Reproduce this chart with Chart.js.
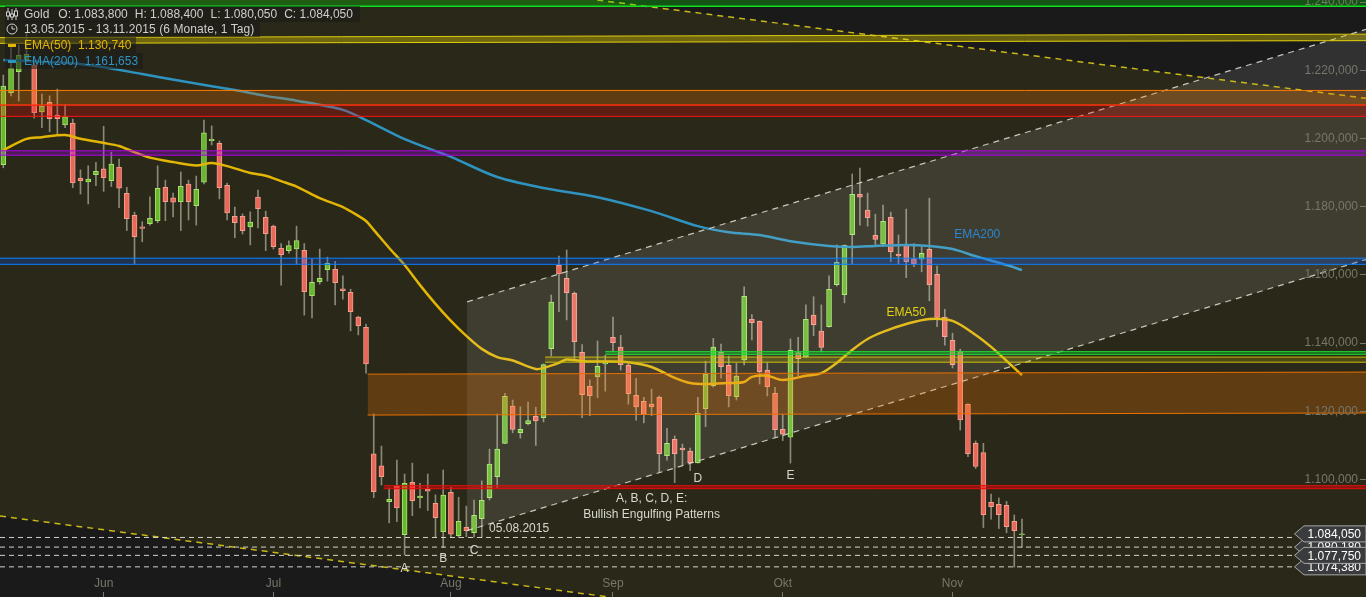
<!DOCTYPE html>
<html>
<head>
<meta charset="utf-8">
<title>Gold</title>
<script src="https://cdn.jsdelivr.net/npm/chart.js@4"></script>
<style>
    html, body { margin: 0; padding: 0; background: #1a1a1a; overflow: hidden; }
    #wrap { position: relative; width: 1366px; height: 597px; }
    #header { position: absolute; left: 0; top: 0; font: 12px "Liberation Sans", Arial, sans-serif; }
    #header div { position: absolute; height: 16px; line-height: 16px; white-space: pre; background: rgba(26,26,26,.55); padding-left: 19px; box-sizing: border-box; left: 5px; color: #cfcfcf; }
    #header span { margin-left: 7px; }
    #header svg { position: absolute; left: 0; top: 0; }
</style>
</head>
<body>
<div id="wrap">
    <canvas id="goldChart" width="1366" height="597"></canvas>
    <div id="header">
        <div style="top:6px;width:355px">Gold<span style="margin-left:9px">O: 1.083,800</span><span>H: 1.088,400</span><span>L: 1.080,050</span><span>C: 1.084,050</span><svg width="16" height="16"><path d="M3 2v12M7 3v11M11 2v12" stroke="#cfcfcf" fill="none"/><rect x="1.5" y="6" width="3" height="4" fill="#1a1a1a" stroke="#cfcfcf"/><rect x="5.5" y="8" width="3" height="3" fill="#1a1a1a" stroke="#cfcfcf"/><rect x="9.5" y="5" width="3" height="5" fill="#1a1a1a" stroke="#cfcfcf"/></svg></div>
        <div style="top:21px;width:255px;letter-spacing:.08px">13.05.2015 - 13.11.2015 (6 Monate, 1 Tag)<svg width="16" height="16"><circle cx="7" cy="8" r="5" stroke="#cfcfcf" fill="none"/><path d="M7 5v3h3" stroke="#cfcfcf" fill="none"/></svg></div>
        <div style="top:37px;width:131px;color:#e3b505">EMA(50)  1.130,740<svg width="16" height="16"><rect x="3" y="7" width="8" height="3" fill="#e3b505"/></svg></div>
        <div style="top:53px;width:138px;color:#2f93c0">EMA(200)  1.161,653<svg width="16" height="16"><rect x="3" y="7" width="8" height="3" fill="#2f93c0"/></svg></div>
    </div>
</div>
<script>
// daily candles, 13.05.2015 - 13.11.2015
const opens = [1.1923,1.2134,1.2196,1.2230,1.2215,1.2078,1.2106,1.2069,1.2040,1.2045,1.1883,1.1873,1.1894,1.1911,1.1876,1.1916,1.1839,1.1775,1.1741,1.1750,
    1.1759,1.1857,1.1826,1.1815,1.1866,1.1803,1.1872,1.1994,1.1986,1.1863,1.1772,1.1772,1.1741,1.1828,1.1769,1.1743,1.1678,1.1671,1.1676,1.1672,
    1.1539,1.1580,1.1615,1.1616,1.1559,1.1549,1.1476,1.1446,1.1075,1.1040,1.0935,1.0981,1.0838,1.0992,1.0946,1.0971,1.0930,1.0847,1.0962,1.0835,
    1.0860,1.0844,1.0885,1.0947,1.1008,1.1106,1.1215,1.1137,1.1164,1.1185,1.1181,1.1384,1.1628,1.1590,1.1546,1.1373,1.1273,1.1301,1.1339,1.1417,
    1.1388,1.1335,1.1247,1.1229,1.1221,1.1241,1.1070,1.1118,1.1092,1.1083,1.1049,1.1208,1.1275,1.1373,1.1335,1.1243,1.1351,1.1470,1.1464,1.1321,
    1.1253,1.1147,1.1124,1.1372,1.1359,1.1482,1.1435,1.1448,1.1571,1.1542,1.1718,1.1836,1.1790,1.1716,1.1691,1.1769,1.1661,1.1690,1.1647,1.1646,
    1.1675,1.1602,1.1476,1.1408,1.1376,1.1221,1.1106,1.1079,1.0933,1.0927,1.0924,1.0877,1.0838];
const highs = [1.2186,1.2271,1.2274,1.2309,1.2224,1.2130,1.2125,1.2145,1.2099,1.2057,1.1908,1.1920,1.1930,1.2036,1.1960,1.1940,1.1857,1.1784,1.1756,1.1829,
    1.1920,1.1878,1.1840,1.1902,1.1878,1.1890,1.2054,1.2037,1.1993,1.1869,1.1799,1.1779,1.1785,1.1849,1.1787,1.1746,1.1692,1.1700,1.1743,1.1692,
    1.1646,1.1676,1.1652,1.1640,1.1597,1.1558,1.1479,1.1456,1.1192,1.1098,1.0975,1.1057,1.1016,1.1048,1.0989,1.1016,1.0955,1.1028,1.0977,1.0948,
    1.0922,1.0940,1.0996,1.1089,1.1192,1.1253,1.1233,1.1213,1.1227,1.1212,1.1339,1.1541,1.1655,1.1673,1.1550,1.1396,1.1292,1.1406,1.1364,1.1476,
    1.1423,1.1341,1.1297,1.1241,1.1265,1.1245,1.1150,1.1128,1.1104,1.1092,1.1241,1.1347,1.1414,1.1397,1.1362,1.1341,1.1565,1.1484,1.1465,1.1343,
    1.1270,1.1191,1.1412,1.1417,1.1512,1.1536,1.1512,1.1597,1.1688,1.1688,1.1896,1.1913,1.1840,1.1778,1.1805,1.1784,1.1717,1.1793,1.1692,1.1683,
    1.1825,1.1626,1.1499,1.1429,1.1382,1.1222,1.1113,1.1106,1.0957,1.0946,1.0936,1.0896,1.0884];
const lows = [1.1914,1.2125,1.2110,1.2224,1.2060,1.2032,1.2020,1.2013,1.2032,1.1856,1.1837,1.1808,1.1862,1.1845,1.1859,1.1797,1.1730,1.1632,1.1697,1.1746,
    1.1753,1.1759,1.1770,1.1730,1.1761,1.1746,1.1867,1.1981,1.1823,1.1761,1.1709,1.1720,1.1688,1.1738,1.1671,1.1676,1.1570,1.1664,1.1632,1.1482,
    1.1474,1.1573,1.1582,1.1512,1.1529,1.1436,1.1424,1.1312,1.0947,1.0984,1.0873,1.0876,1.0779,1.0894,1.0917,1.0909,1.0830,1.0801,1.0830,1.0830,
    1.0832,1.0831,1.0830,1.0940,1.0977,1.1105,1.1137,1.1121,1.1160,1.1100,1.1169,1.1362,1.1492,1.1468,1.1348,1.1181,1.1187,1.1240,1.1259,1.1374,
    1.1321,1.1221,1.1174,1.1166,1.1187,1.1021,1.1057,1.0991,1.1043,1.1026,1.1048,1.1155,1.1271,1.1297,1.1213,1.1233,1.1336,1.1409,1.1280,1.1245,
    1.1124,1.1114,1.1048,1.1304,1.1358,1.1422,1.1374,1.1447,1.1567,1.1518,1.1632,1.1746,1.1743,1.1685,1.1683,1.1639,1.1632,1.1592,1.1624,1.1609,
    1.1524,1.1448,1.1394,1.1327,1.1145,1.1067,1.1032,1.0859,1.0884,1.0856,1.0844,1.0743,1.08005];
const closes = [1.2154,1.2206,1.2244,1.2247,1.2076,1.2095,1.2058,1.2058,1.2064,1.1870,1.1876,1.1881,1.1904,1.1885,1.1925,1.1854,1.1765,1.1712,1.1736,1.1766,
    1.1854,1.1815,1.1813,1.1860,1.1815,1.1851,1.2017,1.1998,1.1856,1.1782,1.1753,1.1730,1.1755,1.1794,1.1721,1.1683,1.1659,1.1686,1.1701,1.1551,
    1.1578,1.1590,1.1634,1.1577,1.1554,1.1492,1.1451,1.1339,1.0964,1.1008,1.0942,1.0917,1.0989,1.0938,1.0951,1.0966,1.0888,1.0954,1.0840,1.0877,
    1.0850,1.0895,1.0939,1.1045,1.1089,1.1244,1.1147,1.1147,1.1173,1.1172,1.1337,1.1520,1.1603,1.1548,1.1404,1.1249,1.1246,1.1332,1.1343,1.1401,
    1.1337,1.1252,1.1213,1.1191,1.1213,1.1076,1.1106,1.1076,1.1087,1.1049,1.1194,1.1310,1.1388,1.1331,1.1246,1.1303,1.1537,1.1460,1.1316,1.1272,
    1.1146,1.1133,1.1379,1.1354,1.1470,1.1454,1.1387,1.1558,1.1637,1.1687,1.1836,1.1828,1.1768,1.1704,1.1757,1.1668,1.1656,1.1639,1.1632,1.1663,
    1.1571,1.1475,1.1419,1.1337,1.1175,1.1076,1.1038,1.0897,1.0920,1.0897,1.0862,1.0850,1.08405];

// moving averages, read at selected candles
const ema200Days = [0,3,9,13,18,24,30,34,38,44,47,52,58,64,70,77,84,90,94,98,102,107,110,113,117,120,123,126,130,132];
const ema200Values = [1.2230,1.2227,1.2221,1.2209,1.2189,1.2165,1.2142,1.2125,1.2111,1.2084,1.2054,1.1998,1.1946,1.1887,1.1855,1.1828,1.1787,1.1743,1.1725,1.1717,
    1.1699,1.1685,1.1682,1.1685,1.1688,1.1685,1.1676,1.1655,1.1629,1.1614];
const ema50Days = [0,3,5,8,10,13,15,17,19,22,25,27,29,32,34,36,38,41,44,46,47,48,50,52,54,56,58,60,62,64,66,69,70,72,73,75,78,81,84,87,89,91,94,96,97,99,101,104,106,108,110,112,114,117,120,123,126,128,130,132];
const ema50Values = [1.1966,1.1999,1.2004,1.2010,1.1999,1.1987,1.1978,1.1960,1.1944,1.1931,1.1921,1.1928,1.1919,1.1899,1.1891,1.1875,1.1859,1.1825,1.1799,1.1773,
    1.1758,1.1732,1.1679,1.1629,1.1570,1.1515,1.1465,1.1421,1.1383,1.1359,1.1349,1.1324,1.1327,1.1342,1.1352,1.1347,1.1346,1.1344,1.1330,1.1298,
    1.1283,1.1280,1.1283,1.1286,1.1301,1.1304,1.1292,1.1304,1.1312,1.1342,1.1380,1.1412,1.1433,1.1456,1.1471,1.1465,1.1424,1.1389,1.1348,1.1306];

// axes
const priceTicks = [1.10,1.12,1.14,1.16,1.18,1.20,1.22,1.24];
const monthDays = [13,35,58,79,101,123];
const monthNames = ['Jun','Jul','Aug','Sep','Okt','Nov'];
const firstDay = -0.43, lastDay = 176.58, priceMin = 1.06554, priceMax = 1.24062;

// drawn levels: [price at start, price at end]
const greenTop = [1.2388, 1.2388];
const yellowUpper = [1.2296, 1.2306];
const yellowLower = [1.2279, 1.2287];
const orangeHigh = 1.2141, redHigh1 = 1.2098, redHigh2 = 1.2065;
const purple1 = 1.1964, purple2 = 1.1951;
const blue1 = 1.1649, blue2 = 1.1631;
const shortGreen1 = 1.1375, shortGreen2 = 1.1367, shortGreenDay = 78;
const shortYellow1 = 1.1359, shortYellow2 = 1.1344, shortYellowDay = 70.2;
const zoneUpper = [1.1309, 1.1315], zoneLower = [1.1189, 1.1195], zoneDay = 47.2;
const redLow1 = 1.0982, redLow2 = 1.0973, redLowDay = 49.3;
const dashedLevels = [1.0830, 1.08018, 1.07775, 1.07438];
const dashedEndDay = 167.4;
const channelDay = 60.09;
const channelUpper = [1.1521, 1.2320], channelLower = [1.0850, 1.1645];
const fallingUpper = [76.96, 1.2406, 1.2118], fallingLower = [78.6, 1.0893, 1.0655];

// price tags in the order they overlap
const tagValues = [1.08018, 1.07438, 1.07775, 1.08405];
const tagTexts = ['1.080,180', '1.074,380', '1.077,750', '1.084,050'];

// notes on the chart
const noteTexts = ['A','B','C','D','E','A, B, C, D, E:','Bullish Engulfing Patterns','05.08.2015','EMA200','EMA50'];
const noteDays = [52,57,61,90,102,84,84,62.94,126.2,117];
const notePrices = [1.0737,1.0767,1.0790,1.1003,1.1012,1.0943,1.0896,1.0855,1.1717,1.1489];
const noteColors = ['#d8d8d0','#d8d8d0','#d8d8d0','#d8d8d0','#d8d8d0','#d8d8d0','#d8d8d0','#d8d8d0','#2a86d2','#e2d214'];

const dayIndex = opens.map((v, i) => i);
const upColors = opens.map((v, i) => closes[i] >= v);

function segment(x1, y1, x2, y2, color, order, extra) {
    return Object.assign({
        type: 'line',
        data: [{x: x1, y: y1}, {x: x2, y: y2}],
        borderColor: color,
        borderWidth: 1,
        pointRadius: 0,
        fill: false,
        order: order
    }, extra || {});
}

// two lines with a fill between them
function band(x1, top, bottom, color, fillColor, order) {
    return [
        segment(x1, top[0], lastDay, top[1], color, order, {fill: '+1', backgroundColor: fillColor}),
        segment(x1, bottom[0], lastDay, bottom[1], color, order)
    ];
}

function lineOf(days, values, color, order) {
    return {
        type: 'line',
        data: days.map((d, i) => ({x: d, y: values[i]})),
        borderColor: color,
        borderWidth: 2.5,
        pointRadius: 0,
        fill: false,
        tension: 0.3,
        order: order
    };
}

const datasets = [
    // olive area between the two falling lines
    {
        type: 'line',
        data: [{x: firstDay, y: priceMax}, {x: fallingUpper[0], y: fallingUpper[1]}, {x: lastDay, y: fallingUpper[2]}],
        borderWidth: 0, pointRadius: 0, fill: '+1', backgroundColor: '#2a2818', order: 100
    },
    {
        type: 'line',
        data: [{x: firstDay, y: fallingLower[1]}, {x: fallingLower[0], y: fallingLower[2]}, {x: lastDay, y: priceMin}],
        borderWidth: 0, pointRadius: 0, fill: false, order: 100
    },
    // candles
    {
        type: 'bar',
        data: dayIndex.map(i => ({x: i, y: [lows[i], highs[i]]})),
        backgroundColor: 'rgba(178,178,158,.7)',
        barThickness: 1,
        grouped: false,
        order: 50
    },
    {
        type: 'bar',
        data: dayIndex.map(i => ({x: i, y: [opens[i], closes[i]]})),
        backgroundColor: upColors.map(up => up ? '#68b82e' : '#e8685a'),
        borderColor: upColors.map(up => up ? '#a9e26f' : '#f59c8c'),
        borderWidth: 1,
        borderSkipped: false,
        barThickness: 5,
        grouped: false,
        order: 49
    },
    lineOf(ema50Days, ema50Values, '#e3b505', 40),
    lineOf(ema200Days, ema200Values, '#2f93c0', 40),
    // channel
    segment(channelDay, channelUpper[0], lastDay, channelUpper[1], 'rgba(225,225,215,.85)', 30, {fill: '+1', backgroundColor: 'rgba(255,255,255,.1)', borderDash: [6, 5], borderWidth: 1.2}),
    segment(channelDay, channelLower[0], lastDay, channelLower[1], 'rgba(225,225,215,.85)', 30, {borderDash: [6, 5], borderWidth: 1.2}),
    // falling yellow lines
    segment(fallingUpper[0], fallingUpper[1], lastDay, fallingUpper[2], '#c8b818', 20, {borderDash: [6, 5], borderWidth: 1.5}),
    segment(firstDay, fallingLower[1], fallingLower[0], fallingLower[2], '#c8b818', 20, {borderDash: [6, 5], borderWidth: 1.5}),
    // levels
    segment(firstDay, greenTop[0], lastDay, greenTop[1], '#10e020', 10, {fill: 'end', backgroundColor: 'rgba(0,255,0,.25)', borderWidth: 1.5}),
    ...band(firstDay, yellowUpper, yellowLower, '#dccc10', 'rgba(255,230,0,.33)', 10),
    ...band(firstDay, [orangeHigh, orangeHigh], [redHigh1, redHigh1], '#ff7a00', 'rgba(255,120,0,.25)', 10),
    ...band(firstDay, [redHigh1, redHigh1], [redHigh2, redHigh2], '#ff1414', 'rgba(255,0,0,.24)', 9),
    ...band(firstDay, [purple1, purple1], [purple2, purple2], '#b000e0', 'rgba(170,0,255,.28)', 10),
    ...band(firstDay, [blue1, blue1], [blue2, blue2], '#0a84ff', 'rgba(0,80,255,.25)', 10),
    ...band(shortGreenDay, [shortGreen1, shortGreen1], [shortGreen2, shortGreen2], '#1fd830', 'rgba(0,230,40,.35)', 10),
    ...band(shortYellowDay, [shortYellow1, shortYellow1], [shortYellow2, shortYellow2], '#c8bc10', 'rgba(220,200,0,.2)', 10),
    ...band(zoneDay, zoneUpper, zoneLower, '#e87000', 'rgba(255,120,0,.25)', 10),
    ...band(redLowDay, [redLow1, redLow1], [redLow2, redLow2], '#d81010', 'rgba(255,0,0,.45)', 10),
    // dashed levels
    ...dashedLevels.map(p => segment(firstDay, p, dashedEndDay, p, 'rgba(232,232,222,.9)', 15, {borderDash: [5, 4]}))
];

// text notes and price tags on top of everything
const overlayPlugin = {
    id: 'overlay',
    afterDraw(chart) {
        const ctx = chart.ctx;
        const xs = chart.scales.x, ys = chart.scales.y;
        ctx.save();
        ctx.font = '12px "Liberation Sans", Arial, sans-serif';
        ctx.textBaseline = 'middle';
        noteTexts.forEach((t, i) => {
            ctx.fillStyle = noteColors[i];
            ctx.textAlign = t === '05.08.2015' ? 'left' : 'center';
            ctx.fillText(t, xs.getPixelForValue(noteDays[i]), ys.getPixelForValue(notePrices[i]));
        });
        tagValues.forEach((v, i) => {
            const y = ys.getPixelForValue(v);
            ctx.beginPath();
            ctx.moveTo(1294.5, y);
            ctx.lineTo(1304, y - 8);
            ctx.lineTo(1366, y - 8);
            ctx.lineTo(1366, y + 8);
            ctx.lineTo(1304, y + 8);
            ctx.closePath();
            ctx.fillStyle = '#3a3b3c';
            ctx.fill();
            ctx.strokeStyle = '#a8a8a8';
            ctx.stroke();
            ctx.fillStyle = '#ffffff';
            ctx.textAlign = 'right';
            ctx.fillText(tagTexts[i], 1361, y + 1);
        });
        ctx.restore();
    }
};

// labels stay inside the plot, no room taken from it
function noMargins(scale) {
    scale.paddingTop = scale.paddingBottom = scale.paddingLeft = scale.paddingRight = 0;
}

new Chart(document.getElementById('goldChart').getContext('2d'), {
    type: 'bar',
    data: {datasets: datasets},
    plugins: [overlayPlugin],
    options: {
        responsive: false,
        animation: false,
        layout: {padding: 0},
        plugins: {legend: {display: false}, tooltip: {enabled: false}},
        scales: {
            x: {
                type: 'linear',
                position: 'bottom',
                min: firstDay,
                max: lastDay,
                offset: false,
                afterFit(scale) { scale.height = 0; noMargins(scale); },
                afterBuildTicks(scale) { scale.ticks = monthDays.map(d => ({value: d})); },
                grid: {drawOnChartArea: false, offset: false, tickLength: -5, color: '#77776c', z: 1},
                border: {display: false},
                ticks: {
                    mirror: true,
                    autoSkip: false,
                    maxRotation: 0,
                    padding: 6,
                    z: 1,
                    color: '#77776c',
                    font: {family: '"Liberation Sans", Arial, sans-serif', size: 12},
                    callback: value => monthNames[monthDays.indexOf(value)]
                }
            },
            y: {
                type: 'linear',
                position: 'right',
                min: priceMin,
                max: priceMax,
                afterFit(scale) { scale.width = 0; noMargins(scale); },
                afterBuildTicks(scale) { scale.ticks = priceTicks.map(v => ({value: v})); },
                grid: {drawOnChartArea: false, tickLength: -6, color: '#77776c', z: 1},
                border: {display: false},
                ticks: {
                    mirror: true,
                    autoSkip: false,
                    padding: -8,
                    z: 1,
                    color: '#77776c',
                    font: {family: '"Liberation Sans", Arial, sans-serif', size: 12},
                    callback: value => value.toFixed(3) + ',000'
                }
            }
        }
    }
});
</script>
</body>
</html>
